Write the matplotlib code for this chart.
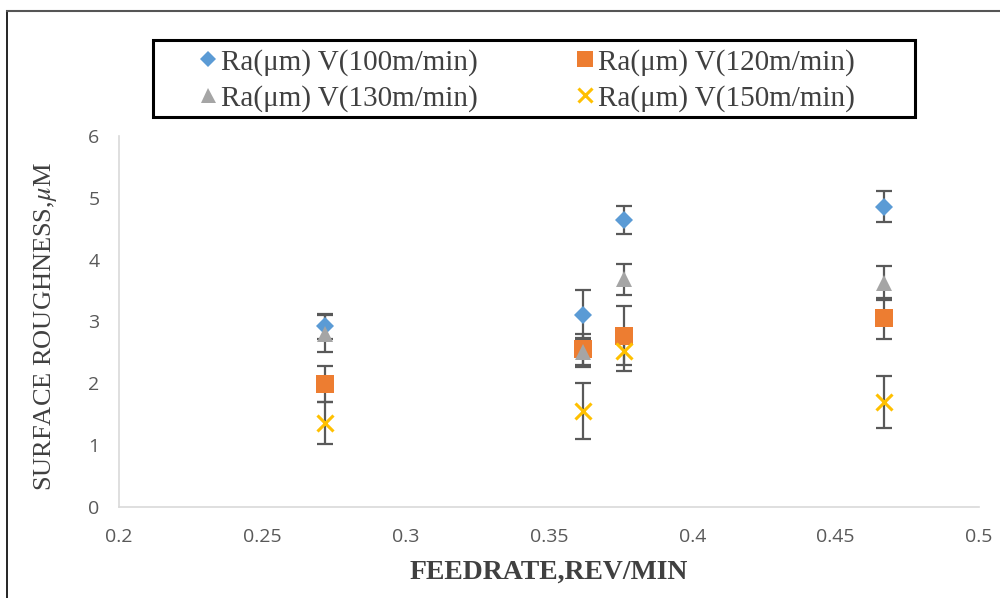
import matplotlib
matplotlib.use("Agg")
import matplotlib.pyplot as plt
from matplotlib.lines import Line2D
from matplotlib.patches import Rectangle

# data
feed = [0.272, 0.362, 0.376, 0.467]
ra_100 = [2.92, 3.11, 4.64, 4.85]
err_100 = [0.20, 0.40, 0.22, 0.25]
ra_120 = [1.99, 2.55, 2.77, 3.05]
err_120 = [0.29, 0.25, 0.48, 0.33]
ra_130 = [2.80, 2.50, 3.68, 3.62]
err_130 = [0.30, 0.24, 0.25, 0.28]
ra_150 = [1.36, 1.55, 2.52, 1.70]
err_150 = [0.34, 0.45, 0.32, 0.42]
labels = ["Ra(μm) V(100m/min)", "Ra(μm) V(120m/min)",
          "Ra(μm) V(130m/min)", "Ra(μm) V(150m/min)"]
xticks = [0.2, 0.25, 0.3, 0.35, 0.4, 0.45, 0.5]
yticks = [0, 1, 2, 3, 4, 5, 6]

plt.rcParams['mathtext.fontset'] = 'stix'

fig = plt.figure(figsize=(10, 5.98), dpi=100)
ax = fig.add_axes([0.119, 0.152, 0.86, 0.621])

ecol = "#595959"
series = [
    (ra_100, err_100, "D", "#5B9BD5", 9, 0),
    (ra_120, err_120, "s", "#ED7D31", 13, 0),
    (ra_130, err_130, "^", "#A5A5A5", 12, 0),
    (ra_150, err_150, "x", "#FFC000", 11, 2.2),
]
handles = []
for (vals, errs, mk, col, ms, mew), lab in zip(series, labels):
    ax.errorbar(feed, vals, yerr=errs, fmt="none", ecolor=ecol,
                elinewidth=1.6, capsize=6, capthick=1.6, zorder=2)
    if mk == "x":
        ax.plot(feed, vals, linestyle="none", marker=mk, color=col,
                markersize=ms, markeredgewidth=mew, zorder=3)
    else:
        ax.plot(feed, vals, linestyle="none", marker=mk, color=col,
                markersize=ms, markeredgewidth=0, zorder=3)
    handles.append(Line2D([], [], linestyle="none", marker=mk, color=col,
                          markersize=ms * 0.9,
                          markeredgewidth=mew if mk == "x" else 0, label=lab))

# legend order: column 1 -> 100, 130 ; column 2 -> 120, 150
handles = [handles[0], handles[2], handles[1], handles[3]]

ax.set_xlim(0.2, 0.5)
ax.set_ylim(0, 6)
ax.set_xticks(xticks)
ax.set_xticklabels([f"{t:g}" for t in xticks])
ax.set_yticks(yticks)
ax.tick_params(length=0, labelsize=14, labelcolor="#595959")
ax.tick_params(axis="x", pad=15)
ax.tick_params(axis="y", pad=14)
for lab in ax.get_xticklabels() + ax.get_yticklabels():
    lab.set_fontfamily("Open Sans")
for s in ["top", "right"]:
    ax.spines[s].set_visible(False)
for s in ["left", "bottom"]:
    ax.spines[s].set_color("#D9D9D9")
    ax.spines[s].set_linewidth(1.2)

ax.set_xlabel("FEEDRATE,REV/MIN", fontfamily="Liberation Serif",
              fontweight="bold", fontsize=20, color="#404040", labelpad=10)
fig.text(0.046, 0.453, r"SURFACE ROUGHNESS,$\mathit{\mu}$M",
         rotation=90, ha="center", va="center",
         fontfamily="Liberation Serif", fontsize=19, color="#404040")

# legend box drawn separately so it can be wider than its entries
fig.add_artist(Rectangle((0.153, 0.804), 0.762, 0.129, transform=fig.transFigure,
                         facecolor="white", edgecolor="black", lw=2.2, zorder=4))
leg = fig.legend(handles=handles, loc="upper left",
                 bbox_to_anchor=(0.19, 0.928),
                 ncol=2, frameon=False, handletextpad=0.05,
                 handlelength=0.8, borderpad=0.2, labelspacing=0.3,
                 columnspacing=3.3, borderaxespad=0,
                 prop={"family": "Liberation Serif", "size": 21})
leg.set_zorder(5)
for t in leg.get_texts():
    t.set_color("#404040")

# outer frame lines (left and top)
fig.add_artist(Line2D([0.007, 0.007], [0, 0.982], color="black", lw=1.2,
                      transform=fig.transFigure))
fig.add_artist(Line2D([0.007, 1.0], [0.982, 0.982], color="#555555", lw=1.5,
                      transform=fig.transFigure))

fig.savefig("out.png", dpi=100)
